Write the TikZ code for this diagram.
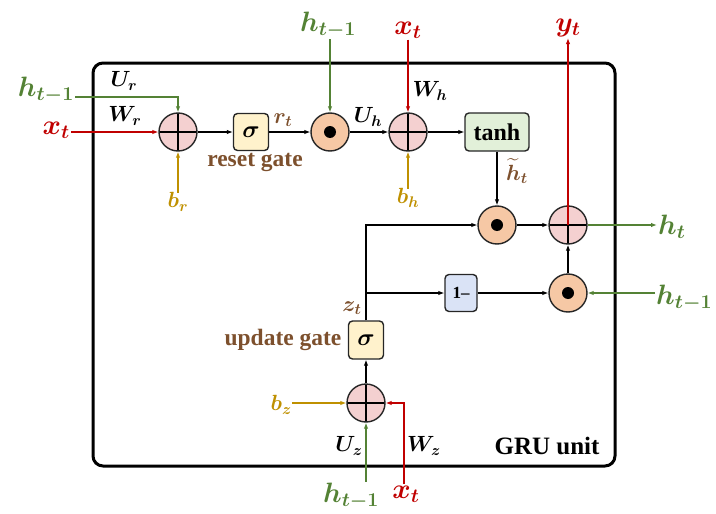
\RequirePackage{fix-cm}
\documentclass[tikz,border=0pt]{standalone}
\usepackage{fontspec}
\setmainfont{Liberation Serif}
\usepackage{amsmath}
\usepackage{bm}
\usetikzlibrary{arrows.meta}
\definecolor{cgreen}{RGB}{84,130,53}
\definecolor{cred}{RGB}{192,0,0}
\definecolor{cgold}{RGB}{191,144,0}
\definecolor{cbrown}{RGB}{125,80,45}
\definecolor{pinkf}{RGB}{244,208,208}
\definecolor{orangef}{RGB}{246,200,165}
\definecolor{yellowf}{RGB}{255,242,204}
\definecolor{greenf}{RGB}{226,240,217}
\definecolor{bluef}{RGB}{218,227,246}
\begin{document}
\begin{tikzpicture}[x=1pt,y=-1pt,
  >={Latex[length=6pt,width=4.5pt]},
  conn/.style={line width=1.1pt,->},
  plusop/.style={circle,draw=black!85,line width=1.4pt,fill=pinkf,minimum size=38pt,inner sep=0pt,
    path picture={\draw[black,line width=1.6pt] (path picture bounding box.north) -- (path picture bounding box.south)
      (path picture bounding box.west) -- (path picture bounding box.east);}},
  dotop/.style={circle,draw=black!85,line width=1.4pt,fill=orangef,minimum size=38pt,inner sep=0pt,
    path picture={\fill[black] (path picture bounding box.center) circle (6pt);}},
  gatebox/.style={rectangle,rounded corners=4pt,draw=black!85,line width=1.4pt,inner sep=0pt},
  biglab/.style={font=\fontsize{28}{30}\selectfont,inner sep=1pt},
  wlab/.style={font=\fontsize{22}{24}\selectfont,inner sep=0pt},
  gatetxt/.style={font=\fontsize{23.5}{25}\selectfont\bfseries,text=cbrown,inner sep=0pt}
]
\useasboundingbox (0,0) rectangle (716,514);
% frame
\draw[line width=3pt,rounded corners=10pt] (93,63) rectangle (615,466);

% operators
\node[plusop] (pr) at (178,132) {};
\node[gatebox,fill=yellowf,minimum width=35pt,minimum height=37pt] (sr) at (251,132) {\fontsize{24}{26}\selectfont$\bm{\sigma}$};
\node[dotop] (dr) at (330,132) {};
\node[plusop] (ph) at (408,132) {};
\node[gatebox,fill=greenf,minimum width=64pt,minimum height=38pt] (th) at (497,132) {\fontsize{24}{26}\selectfont\bfseries tanh};
\node[dotop] (dh) at (497,225) {};
\node[plusop] (po) at (568,225) {};
\node[dotop] (dz) at (568,293) {};
\node[gatebox,fill=bluef,minimum width=32pt,minimum height=37pt] (om) at (461,293) {\fontsize{17}{19}\selectfont\bfseries 1–};
\node[gatebox,fill=yellowf,minimum width=35pt,minimum height=38pt] (sz) at (366,340) {\fontsize{24}{26}\selectfont$\bm{\sigma}$};
\node[plusop] (pz) at (366,403) {};

% input / output labels
\node[biglab,text=cgreen,anchor=east] (hL) at (75,90) {$\bm{h_{t-1}}$};
\node[biglab,text=cred,anchor=east] (xL) at (71,130) {$\bm{x_t}$};
\node[wlab,text=cgold] (bR) at (178,202) {$\bm{b_r}$};
\node[biglab,text=cgreen] (hT) at (328,25) {$\bm{h_{t-1}}$};
\node[biglab,text=cred] (xT) at (408,30) {$\bm{x_t}$};
\node[wlab,text=cgold] (bH) at (408,198) {$\bm{b_h}$};
\node[biglab,text=cred] (yT) at (568,28) {$\bm{y_t}$};
\node[biglab,text=cgreen,anchor=west] (hO) at (657,227) {$\bm{h_t}$};
\node[biglab,text=cgreen,anchor=west] (hR) at (655,298) {$\bm{h_{t-1}}$};
\node[wlab,text=cgold,anchor=east] (bZ) at (292,405) {$\bm{b_z}$};
\node[biglab,text=cgreen] (hB) at (351,496) {$\bm{h_{t-1}}$};
\node[biglab,text=cred] (xB) at (406,494) {$\bm{x_t}$};

% weight labels
\node[wlab] (Ur) at (124,81) {$\bm{U_r}$};
\node[wlab] (Wr) at (125,116) {$\bm{W_r}$};
\node[wlab,text=cbrown] (rt) at (283,120) {$\bm{r_t}$};
\node[wlab] (Uh) at (368,117) {$\bm{U_h}$};
\node[wlab] (Wh) at (430,91) {$\bm{W_h}$};
\node[wlab,text=cbrown] (ht) at (517,171) {$\bm{\widetilde{h}_t}$};
\node[wlab,text=cbrown] (zt) at (352,308) {$\bm{z_t}$};
\node[wlab] (Uz) at (349,446) {$\bm{U_z}$};
\node[wlab] (Wz) at (424,446) {$\bm{W_z}$};
\node[gatetxt] (rg) at (255,162) {reset gate};
\node[gatetxt] (ug) at (283,340) {update gate};
\node[font=\fontsize{25}{27}\selectfont\bfseries,inner sep=0pt] (gru) at (547,446) {GRU unit};

% connectors: reset gate
\draw[conn,cgreen] ([yshift=-7pt]hL.east) -| (pr.north);
\draw[conn,cred] (xL.east |- pr.west) -- (pr.west);
\draw[conn,cgold] (bR.north) -- (pr.south);
\draw[conn] (pr.east) -- (sr.west);
\draw[conn] (sr.east) -- (dr.west);
\draw[conn,cgreen] (hT.south -| dr.north) -- (dr.north);
% candidate
\draw[conn] (dr.east) -- (ph.west);
\draw[conn,cred] (xT.south) -- (ph.north);
\draw[conn,cgold] (bH.north) -- (ph.south);
\draw[conn] (ph.east) -- (th.west);
\draw[conn] (th.south) -- (dh.north);
\draw[conn] (dh.east) -- (po.west);
\draw[conn] (dz.north) -- (po.south);
\draw[conn,cred] (po.center) -- (yT.south);
\draw[conn,cgreen] (po.east) -- (hO.west |- po.east);
\draw[conn,cgreen] (hR.west |- dz.east) -- (dz.east);
\draw[conn] (om.east) -- (dz.west);
% update gate
\draw[conn,cgold] (bZ.east |- pz.west) -- (pz.west);
\draw[conn,cgreen] (hB.north -| pz.south) -- (pz.south);
\draw[conn,cred] (xB.north -| 404,0) |- (pz.east);
\draw[conn] (pz.north) -- (sz.south);
\draw[conn] (sz.north) |- (dh.west);
\draw[conn] (sz.north |- om.west) -- (om.west);
\end{tikzpicture}
\end{document}
